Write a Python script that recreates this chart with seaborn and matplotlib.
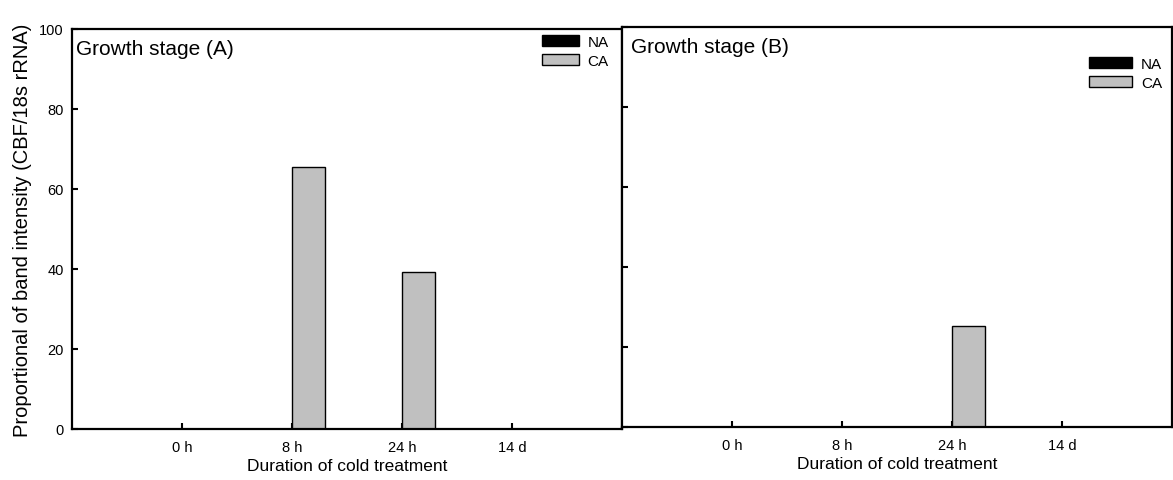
import pandas as pd
import seaborn as sns
import matplotlib.pyplot as plt

times = ['0 h', '8 h', '24 h', '14 d']
treatments = ['NA', 'CA']
stage_a_na = [0, 0, 0, 0]
stage_a_ca = [0, 65.6, 39.3, 0]
stage_b_na = [0, 0, 0, 0]
stage_b_ca = [0, 0, 25.3, 0]


def make_df(na, ca):
    return pd.DataFrame({
        'time': times * 2,
        'treatment': ['NA'] * len(times) + ['CA'] * len(times),
        'value': na + ca,
    })


sns.set_style('ticks')
plt.rcParams['font.family'] = ['Liberation Sans', 'DejaVu Sans']
plt.rcParams['text.color'] = 'black'
plt.rcParams['axes.labelcolor'] = 'black'

fig = plt.figure(figsize=(11.73, 4.81), dpi=100)
W, H = 1173, 481
ax1 = fig.add_axes([72 / W, (H - 430) / H, 550 / W, 400 / H])
ax2 = fig.add_axes([622 / W, (H - 428) / H, 550 / W, 400 / H])

pal = {'NA': 'black', 'CA': '#c0c0c0'}
panels = [
    (ax1, make_df(stage_a_na, stage_a_ca), 'Growth stage (A)', (0.976, 0.985), 2.4),
    (ax2, make_df(stage_b_na, stage_b_ca), 'Growth stage (B)', (0.982, 0.925), 2.8),
]

for ax, df, title, anchor, hl in panels:
    sns.barplot(data=df, x='time', y='value', hue='treatment', order=times,
                hue_order=treatments, palette=pal, width=0.6, errorbar=None,
                edgecolor='black', linewidth=1, ax=ax)
    ax.set_xlim(-1, 4)
    ax.set_ylim(0, 100)
    ax.set_yticks(range(0, 101, 20))
    for s in ax.spines.values():
        s.set_visible(True)
        s.set_linewidth(1.6)
        s.set_color('black')
    ax.tick_params(direction='in', length=4, width=1.5, labelsize=10.5,
                   colors='black')
    ax.tick_params(axis='x', pad=8)
    ax.tick_params(axis='y', pad=6)
    ax.set_xlabel('Duration of cold treatment', fontsize=12.5, labelpad=3)
    ax.text(0.008 if ax is ax1 else 0.016, 0.975, title, transform=ax.transAxes,
            fontsize=15, va='top', ha='left')
    ax.legend(loc='upper right', bbox_to_anchor=anchor, frameon=False,
              fontsize=11, borderpad=0, borderaxespad=0, handlelength=hl,
              handleheight=0.7, handletextpad=0.6, labelspacing=0.3)

ax1.set_ylabel('Proportional of band intensity (CBF/18s rRNA)', fontsize=14.5,
               labelpad=5)
ax2.set_ylabel('')
ax2.set_yticklabels([])

fig.savefig('out.png', dpi=100)
